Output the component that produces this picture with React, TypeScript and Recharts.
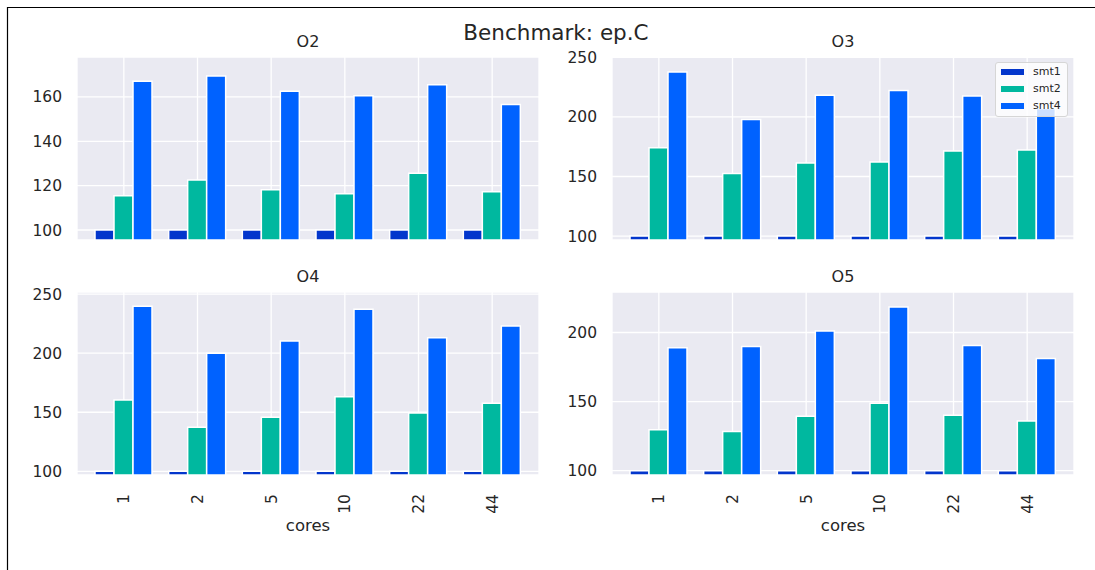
import React from 'react';
import { BarChart, Bar, XAxis, YAxis, CartesianGrid, Legend } from 'recharts';

// Categories (number of cores) shared by every panel
const cores = ['1', '2', '5', '10', '22', '44'];
const seriesNames = ['smt1', 'smt2', 'smt4'];

// O2
const o2Smt1 = [100, 100, 100, 100, 100, 100];
const o2Smt2 = [115.4, 122.6, 118.2, 116.3, 125.6, 117.2];
const o2Smt4 = [167.1, 169.4, 162.6, 160.5, 165.5, 156.6];
const o2Ticks = [100, 120, 140, 160];

// O3
const o3Smt1 = [100, 100, 100, 100, 100, 100];
const o3Smt2 = [174.2, 152.5, 161.4, 162.2, 171.4, 172.2];
const o3Smt4 = [237.8, 197.8, 218.3, 222.2, 217.5, 207.0];
const o3Ticks = [100, 150, 200, 250];

// O4
const o4Smt1 = [100, 100, 100, 100, 100, 100];
const o4Smt2 = [160.4, 137.3, 145.8, 163.2, 149.4, 157.6];
const o4Smt4 = [239.8, 200.0, 210.4, 237.3, 213.0, 223.1];
const o4Ticks = [100, 150, 200, 250];

// O5
const o5Smt1 = [100, 100, 100, 100, 100, 100];
const o5Smt2 = [129.7, 128.3, 139.4, 148.8, 140.1, 136.0];
const o5Smt4 = [188.9, 189.9, 201.0, 218.4, 190.6, 181.2];
const o5Ticks = [100, 150, 200];

const COLORS: Record<string, string> = {
  smt1: '#0336cc',
  smt2: '#00b89f',
  smt4: '#0062ff',
};
const TEXT = '#262626';
const FONT = '"DejaVu Sans", sans-serif';

type Row = { cores: string; smt1: number; smt2: number; smt4: number };

function buildRows(s1: number[], s2: number[], s4: number[]): Row[] {
  return cores.map((c, i) => ({ cores: c, smt1: s1[i], smt2: s2[i], smt4: s4[i] }));
}

const CoreTick = (props: any) => {
  const { x, y, payload } = props;
  return (
    <text
      x={x}
      y={y}
      transform={`rotate(-90, ${x}, ${y})`}
      textAnchor="end"
      dy="0.36em"
      fontSize={15.5}
      fill={TEXT}
      fontFamily={FONT}
    >
      {payload.value}
    </text>
  );
};

const LegendBox = () => (
  <div
    style={{
      position: 'relative',
      width: 73,
      height: 55,
      boxSizing: 'border-box',
      background: 'rgba(255,255,255,0.8)',
      border: '1px solid #d6d6d6',
      borderRadius: 3,
      fontFamily: FONT,
    }}
  >
    {seriesNames.map((name, i) => (
      <div key={name}>
        <div
          style={{
            position: 'absolute',
            left: 5,
            top: 5.5 + i * 17,
            width: 23,
            height: 6,
            background: COLORS[name],
          }}
        />
        <div
          style={{
            position: 'absolute',
            left: 37,
            top: 1 + i * 17,
            fontSize: 11,
            lineHeight: '15px',
            color: TEXT,
          }}
        >
          {name}
        </div>
      </div>
    ))}
  </div>
);

type PanelProps = {
  left: number;
  top: number;
  height: number;
  margin: { top: number; right: number; bottom: number; left: number };
  data: Row[];
  domain: [number, number];
  ticks: number[];
  showX: boolean;
  legend?: boolean;
};

function Panel({ left, top, height, margin, data, domain, ticks, showX, legend }: PanelProps) {
  return (
    <div style={{ position: 'absolute', left, top }}>
      <BarChart
        width={545}
        height={height}
        data={data}
        margin={margin}
        barCategoryGap={8}
        barGap={0}
      >
        <CartesianGrid fill="#eaeaf2" fillOpacity={1} stroke="#ffffff" strokeWidth={1.3} />
        <XAxis
          dataKey="cores"
          hide={!showX}
          height={90}
          padding={{ left: 10, right: 10 }}
          axisLine={false}
          tickLine={false}
          tickSize={0}
          tickMargin={19}
          interval={0}
          tick={<CoreTick />}
          label={
            showX
              ? { value: 'cores', position: 'insideBottom', offset: 34, fill: TEXT, fontSize: 16.5, fontFamily: FONT }
              : undefined
          }
        />
        <YAxis
          type="number"
          width={60}
          domain={domain}
          ticks={ticks}
          interval={0}
          allowDataOverflow
          axisLine={false}
          tickLine={false}
          tickSize={0}
          tickMargin={15}
          tick={{ fill: TEXT, fontSize: 15.5, fontFamily: FONT }}
        />
        {legend ? (
          <Legend
            layout="vertical"
            align="center"
            verticalAlign="middle"
            wrapperStyle={{ left: 450, top: 62, width: 73 }}
            content={() => <LegendBox />}
          />
        ) : null}
        {seriesNames.map((name) => (
          <Bar
            key={name}
            dataKey={name}
            fill={COLORS[name]}
            stroke="#ffffff"
            strokeWidth={1.5}
            isAnimationActive={false}
          />
        ))}
      </BarChart>
    </div>
  );
}

export default function App() {
  const titleStyle = { fontFamily: FONT, fill: TEXT } as const;
  return (
    <div
      style={{
        position: 'absolute',
        left: 0,
        top: 0,
        width: 1095,
        height: 570,
        background: '#ffffff',
        overflow: 'hidden',
        fontFamily: FONT,
      }}
    >
      <svg width={1095} height={570} style={{ position: 'absolute', left: 0, top: 0 }}>
        <line x1={7} y1={7.5} x2={1095} y2={7.5} stroke="#000" strokeWidth={1.2} />
        <line x1={7.5} y1={7} x2={7.5} y2={570} stroke="#000" strokeWidth={1.2} />
        <text x={556} y={39.5} textAnchor="middle" fontSize={21.5} {...titleStyle}>
          Benchmark: ep.C
        </text>
        <text x={308} y={46.5} textAnchor="middle" fontSize={16} {...titleStyle}>O2</text>
        <text x={843} y={46.5} textAnchor="middle" fontSize={16} {...titleStyle}>O3</text>
        <text x={308} y={281.5} textAnchor="middle" fontSize={16} {...titleStyle}>O4</text>
        <text x={843} y={281.5} textAnchor="middle" fontSize={16} {...titleStyle}>O5</text>
      </svg>
      <Panel
        left={0}
        top={0}
        height={245}
        margin={{ top: 57, right: 6, bottom: 5, left: 17 }}
        data={buildRows(o2Smt1, o2Smt2, o2Smt4)}
        domain={[95.5, 178]}
        ticks={o2Ticks}
        showX={false}
      />
      <Panel
        left={545}
        top={0}
        height={245}
        margin={{ top: 57, right: 16, bottom: 5, left: 7 }}
        data={buildRows(o3Smt1, o3Smt2, o3Smt4)}
        domain={[96.7, 250.3]}
        ticks={o3Ticks}
        showX={false}
        legend
      />
      <Panel
        left={0}
        top={250}
        height={320}
        margin={{ top: 42, right: 6, bottom: 5, left: 17 }}
        data={buildRows(o4Smt1, o4Smt2, o4Smt4)}
        domain={[96.9, 251.8]}
        ticks={o4Ticks}
        showX
      />
      <Panel
        left={545}
        top={250}
        height={320}
        margin={{ top: 42, right: 16, bottom: 5, left: 7 }}
        data={buildRows(o5Smt1, o5Smt2, o5Smt4)}
        domain={[96.9, 229.3]}
        ticks={o5Ticks}
        showX
      />
    </div>
  );
}
